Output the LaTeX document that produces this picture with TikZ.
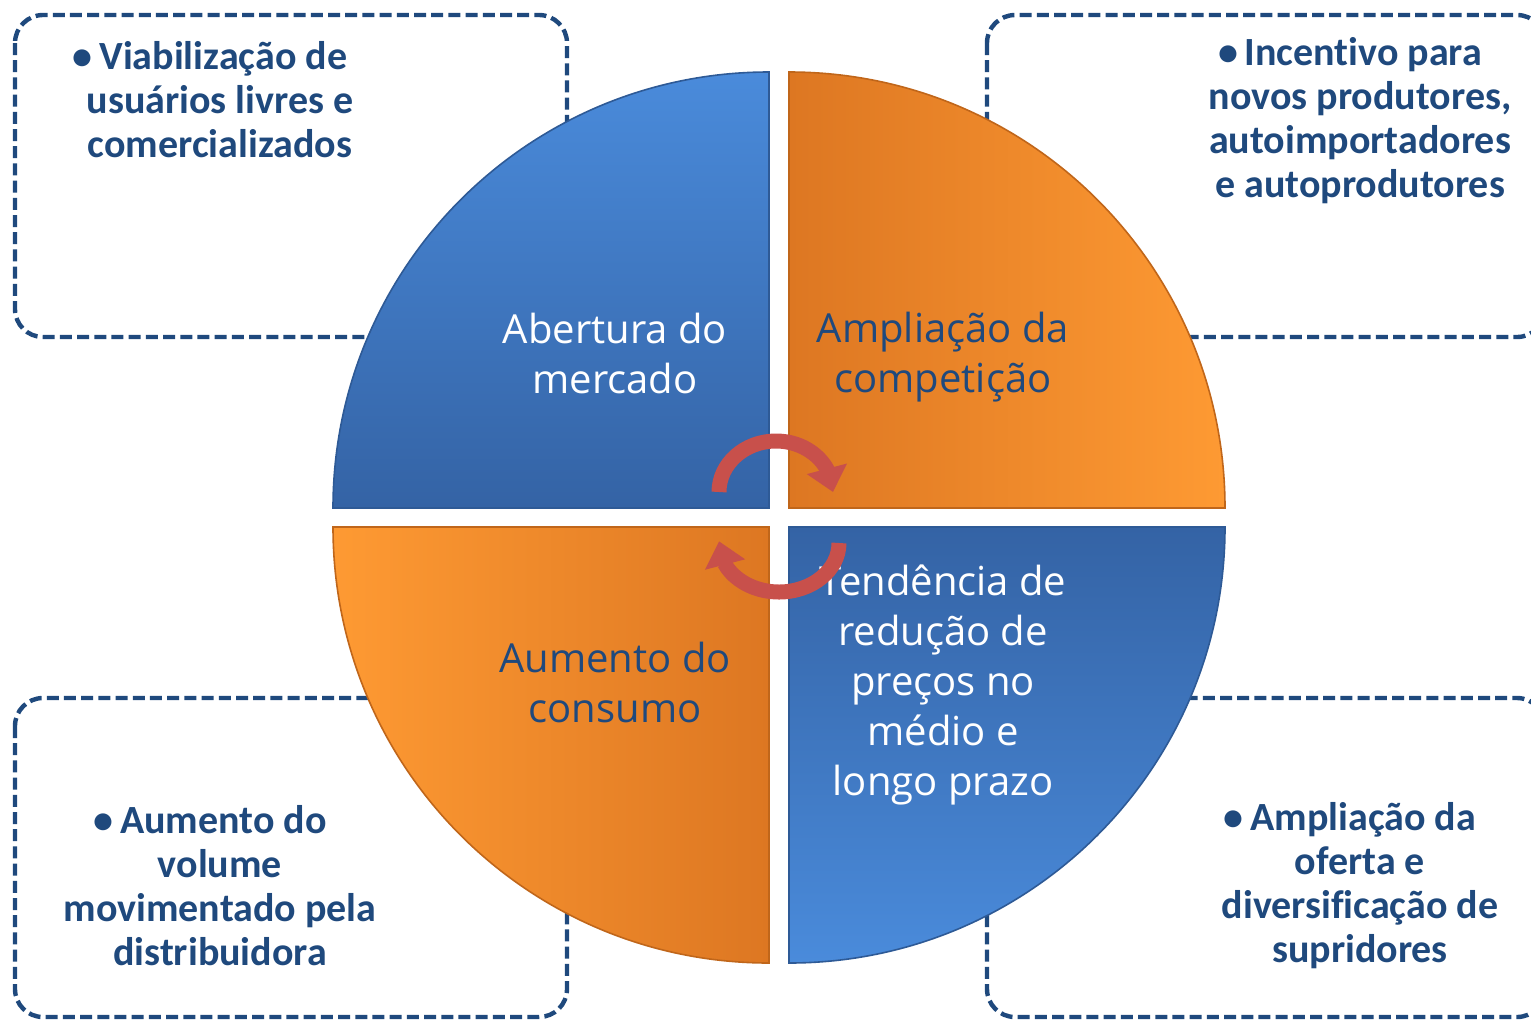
\documentclass[tikz,border=0pt]{standalone}
\usepackage{fontspec}
\setmainfont{Carlito}[Ligatures=NoCommon]
\newfontfamily\quadfont{Open Sans}
\usetikzlibrary{arrows.meta,bending}
\definecolor{navytext}{HTML}{1F497D}
\definecolor{bluelight}{HTML}{4A8BDB}
\definecolor{bluedark}{HTML}{3463A5}
\definecolor{blueedge}{HTML}{2E5A96}
\definecolor{orangelight}{HTML}{FE9A33}
\definecolor{orangedark}{HTML}{DD7722}
\definecolor{orangeedge}{HTML}{C0661A}
\definecolor{arrowred}{HTML}{C8504B}
\tikzset{
  dashbox/.style={draw=navytext,line width=2.2pt,dash pattern=on 6pt off 2.6pt,rounded corners=14pt},
  bluequad/.style={draw=blueedge,line width=0.8pt},
  orangequad/.style={draw=orangeedge,line width=0.8pt},
  quadtext/.style={font=\quadfont\fontsize{20}{25}\selectfont,align=center,inner sep=0pt},
  boxtext/.style={font=\bfseries\fontsize{20}{22}\selectfont,text=navytext,align=center,inner sep=0pt},
  cyclearrow/.style={draw=arrowred,line width=7.5pt,-{Triangle[width=20pt,length=12pt,flex]}}
}
\newcommand\bulletitem[1]{\textbullet\,#1\kern10pt}

\begin{document}
\begin{tikzpicture}[x=0.5pt,y=-0.5pt]
  \clip (0,0) rectangle (1531,1019);
  % dashed boxes behind the circle
  \draw[dashbox] (15,15) rectangle (567,337);
  \draw[dashbox] (987,15) rectangle (1545,337);
  \draw[dashbox] (15,698) rectangle (567,1017);
  \draw[dashbox] (987,698) rectangle (1545,1017);
  % quadrants
  \path[bluequad,top color=bluelight,bottom color=bluedark]
    (769,508) -- (333,508) arc[start angle=180,end angle=270,radius=436] -- cycle;
  \path[orangequad,left color=orangedark,right color=orangelight]
    (789,508) -- (1225,508) arc[start angle=0,end angle=-90,radius=436] -- cycle;
  \path[orangequad,left color=orangelight,right color=orangedark]
    (769,527) -- (333,527) arc[start angle=180,end angle=90,radius=436] -- cycle;
  \path[bluequad,top color=bluedark,bottom color=bluelight]
    (789,527) -- (1225,527) arc[start angle=0,end angle=90,radius=436] -- cycle;
  % quadrant labels
  \node[quadtext,text=white] (mercado) at (615,353) {Abertura do\\mercado};
  \node[quadtext,text=navytext] (competicao) at (943,357) {Ampliação da\\competição};
  \node[quadtext,text=navytext] (consumo) at (615,682) {Aumento do\\consumo};
  \node[quadtext,text=white] (precos) at (943,685) {Tendência de\\redução de\\preços no\\médio e\\longo prazo};
  % cycle arrows
  \draw[cyclearrow] (719,492) arc[start angle=180,end angle=360,x radius=57,y radius=51];
  \draw[cyclearrow] (839,543) arc[start angle=0,end angle=182,x radius=60,y radius=49];
  % box texts
  \node[boxtext] (usuarios) at (220,100) {\bulletitem{Viabilização de}\\usuários livres e\\comercializados};
  \node[boxtext] (produtores) at (1360,121) {\bulletitem{Incentivo para}\\novos produtores,\\autoimportadores\\e autoprodutores};
  \node[boxtext] (volume) at (220,886) {\bulletitem{Aumento do}\\volume\\movimentado pela\\distribuidora};
  \node[boxtext] (oferta) at (1360,886) {\bulletitem{Ampliação da}\\oferta e\\diversificação de\\supridores};
\end{tikzpicture}
\end{document}
